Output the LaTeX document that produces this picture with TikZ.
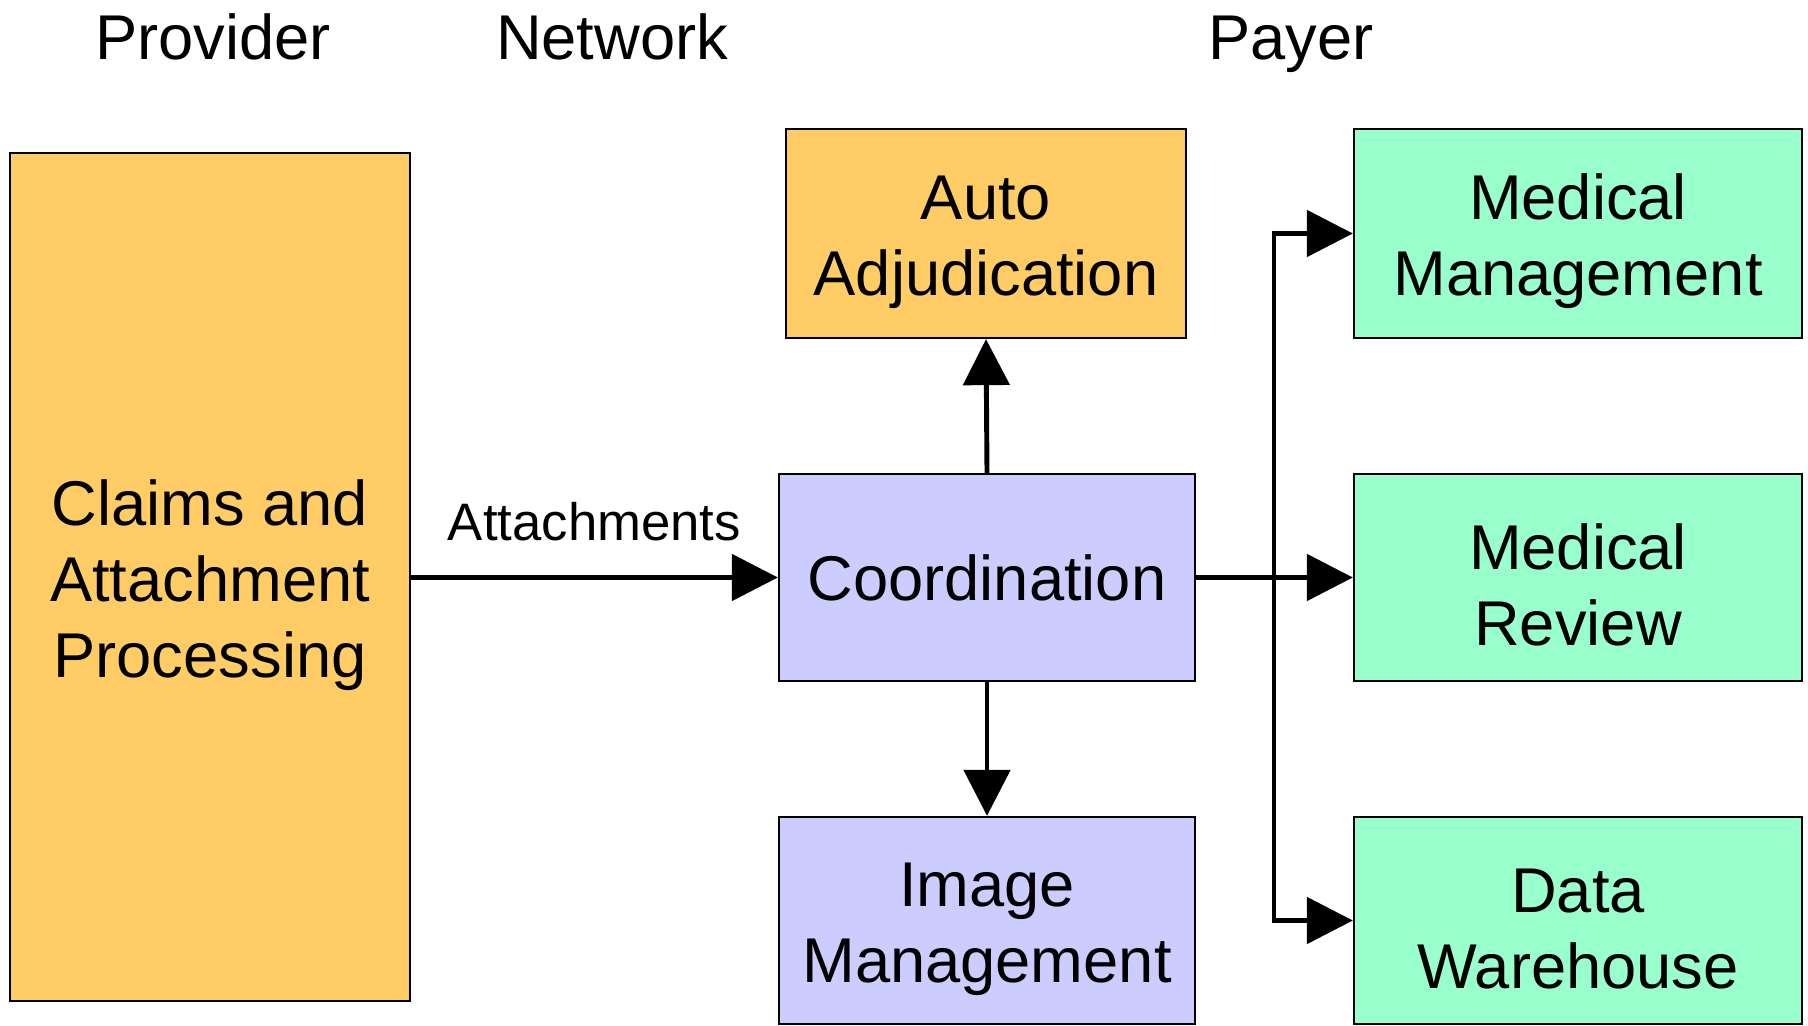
\documentclass[tikz,border=0pt]{standalone}
\usepackage{fontspec}
\setmainfont{Liberation Sans}
\usetikzlibrary{arrows.meta}
\definecolor{provorange}{HTML}{FFCC66}
\definecolor{netblue}{HTML}{CCCCFF}
\definecolor{paygreen}{HTML}{99FFCC}
\newcommand{\boxstrut}{\rule{0pt}{17.5pt}}

\begin{document}
\begin{tikzpicture}[
	box/.style={draw,line width=0.65pt,align=center,inner sep=0pt,font=\fontsize{18}{21.6}\selectfont},
	head/.style={anchor=base,font=\fontsize{18}{21.6}\selectfont},
	arr/.style={line width=1.4pt,-{Triangle[length=0.46cm,width=0.46cm]}}]
	\useasboundingbox (0,0) rectangle (18.08,-10.26);
	% column titles
	\node[head] (provider) at (2.13,-0.60) {Provider};
	\node[head] (network) at (6.12,-0.60) {Network};
	\node[head] (payer) at (12.91,-0.60) {Payer};
	% boxes
	\node[box,fill=provorange,minimum width=4.00cm,minimum height=8.48cm] (claims) at (2.10,-5.77) {\boxstrut Claims and\\Attachment\\Processing};
	\node[box,fill=provorange,minimum width=4.00cm,minimum height=2.09cm] (auto) at (9.86,-2.335) {\boxstrut Auto\\Adjudication};
	\node[box,fill=netblue,minimum width=4.16cm,minimum height=2.07cm] (coord) at (9.87,-5.775) {Coordination};
	\node[box,fill=netblue,minimum width=4.16cm,minimum height=2.07cm] (image) at (9.87,-9.205) {\boxstrut Image\\Management};
	\node[box,fill=paygreen,minimum width=4.48cm,minimum height=2.09cm] (mgmt) at (15.78,-2.335) {\boxstrut Medical\\Management};
	\node[box,fill=paygreen,minimum width=4.48cm,minimum height=2.07cm] (review) at (15.78,-5.775) {\boxstrut Medical\\Review};
	\node[box,fill=paygreen,minimum width=4.48cm,minimum height=2.07cm] (warehouse) at (15.78,-9.205) {\boxstrut Data\\Warehouse};
	\coordinate (fork) at (12.74,0);
	% connectors
	\draw[arr] (claims.east |- coord.west) -- node[above=0.22cm,font=\fontsize{15}{18}\selectfont] (attach) {Attachments} (coord.west);
	\draw[arr] (coord.north) -- (auto.south);
	\draw[arr] (coord.south) -- (image.north);
	\draw[arr] (coord.east) -- (review.west);
	\draw[line width=1.4pt,{Triangle[length=0.46cm,width=0.46cm]}-{Triangle[length=0.46cm,width=0.46cm]}] (mgmt.west) -- (fork |- mgmt.west) -- (fork |- warehouse.west) -- (warehouse.west);
\end{tikzpicture}
\end{document}
